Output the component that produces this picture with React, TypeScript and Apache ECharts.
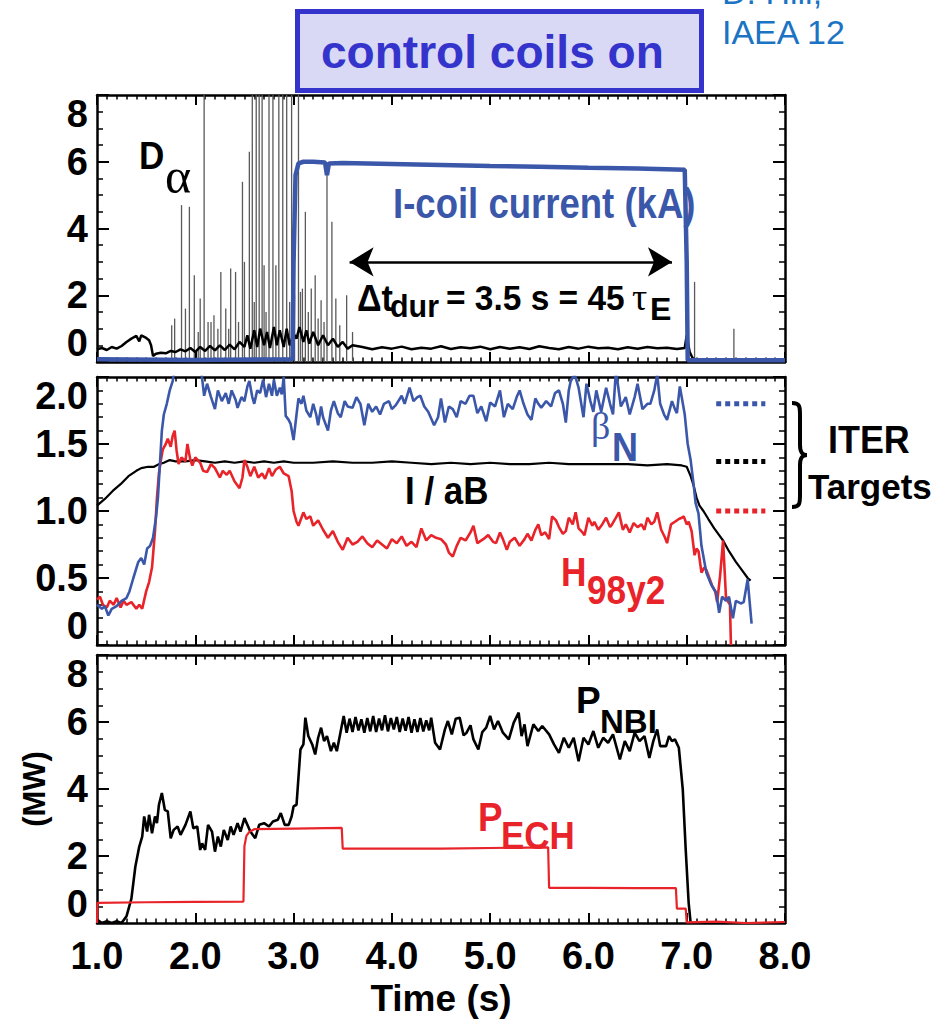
import React, { useEffect, useRef } from 'react';
import * as echarts from 'echarts';

const FONT = '"Liberation Sans", Arial, Helvetica, sans-serif';
const SERIF = '"Liberation Serif", "Times New Roman", serif';
const BLUE = '#3b57a9';
const RED = '#e8242a';
const BLACK = '#000000';

// ---------- tick labels ----------
const xTickValues = [1, 2, 3, 4, 5, 6, 7, 8];
const xTickLabels = ['1.0', '2.0', '3.0', '4.0', '5.0', '6.0', '7.0', '8.0'];
const topTickValues = [0, 2, 4, 6, 8];
const topTickLabels = ['0', '2', '4', '6', '8'];
const midTickValues = [0, 0.5, 1, 1.5, 2];
const midTickLabels = ['0', '0.5', '1.0', '1.5', '2.0'];
const botTickValues = [0, 2, 4, 6, 8];
const botTickLabels = ['0', '2', '4', '6', '8'];

// ---------- top panel: D-alpha and I-coil current ----------
const daBase: number[][] = [
  [1.0, 0.38], [1.05, 0.42], [1.1, 0.36], [1.15, 0.45], [1.2, 0.4], [1.25, 0.48], [1.3, 0.6], [1.35, 0.7],
  [1.4, 0.78], [1.43, 0.62], [1.45, 0.8], [1.5, 0.72], [1.53, 0.65], [1.55, 0.5], [1.57, 0.18], [1.6, 0.25],
  [1.65, 0.28], [1.7, 0.26], [1.75, 0.33], [1.8, 0.3], [1.85, 0.38], [1.9, 0.32], [1.95, 0.42], [2.0, 0.3],
  [2.05, 0.45], [2.1, 0.33], [2.15, 0.48], [2.2, 0.35], [2.25, 0.5], [2.3, 0.36], [2.35, 0.52], [2.4, 0.38],
  [2.45, 0.6], [2.5, 0.45], [2.53, 0.8], [2.56, 0.4], [2.6, 0.95], [2.63, 0.45], [2.66, 1.0], [2.7, 0.5],
  [2.73, 0.9], [2.76, 0.42], [2.8, 1.05], [2.83, 0.5], [2.86, 0.95], [2.9, 0.45], [2.93, 1.0], [2.96, 0.5],
  [3.0, 0.85], [3.03, 0.7], [3.06, 1.05], [3.1, 0.6], [3.13, 0.95], [3.16, 0.55], [3.2, 0.9], [3.25, 0.5],
  [3.3, 0.8], [3.35, 0.5], [3.4, 0.7], [3.45, 0.45], [3.5, 0.6], [3.55, 0.4], [3.6, 0.5], [3.7, 0.45],
  [3.8, 0.38], [3.9, 0.44], [4.0, 0.4], [4.1, 0.46], [4.2, 0.38], [4.3, 0.43], [4.4, 0.4], [4.5, 0.47],
  [4.6, 0.39], [4.7, 0.44], [4.8, 0.41], [4.9, 0.46], [5.0, 0.38], [5.1, 0.45], [5.2, 0.4], [5.3, 0.44],
  [5.4, 0.39], [5.5, 0.47], [5.6, 0.42], [5.7, 0.38], [5.8, 0.45], [5.9, 0.4], [6.0, 0.46], [6.1, 0.41],
  [6.2, 0.43], [6.3, 0.38], [6.4, 0.44], [6.5, 0.4], [6.6, 0.45], [6.7, 0.41], [6.8, 0.43], [6.9, 0.39],
  [6.98, 0.42], [7.0, 0.8], [7.03, 0.3], [7.06, 0.12], [7.1, 0.05], [7.5, 0.06], [8.0, 0.05],
];
const daSpikes: number[][] = [
  [1.76, 1.1], [1.79, 1.3], [1.86, 4.7], [1.9, 1.6], [1.94, 4.65], [1.99, 2.6], [2.03, 0.9], [2.05, 1.9],
  [2.09, 10], [2.13, 1.2], [2.16, 1.2], [2.19, 1.4], [2.23, 1.0], [2.26, 2.7], [2.31, 1.6], [2.34, 1.0],
  [2.36, 2.8], [2.41, 2.7], [2.44, 1.2], [2.48, 5.4], [2.5, 3.0], [2.55, 6.3], [2.58, 10], [2.6, 1.8],
  [2.62, 10], [2.65, 10], [2.68, 10], [2.7, 2.9], [2.72, 1.5], [2.75, 10], [2.79, 10], [2.82, 2.9],
  [2.85, 10], [2.89, 10], [2.93, 10], [2.96, 1.8], [2.98, 10], [3.01, 2.0], [3.05, 10], [3.07, 2.1],
  [3.09, 2.2], [3.12, 4.5], [3.15, 1.5], [3.18, 2.2], [3.22, 2.6], [3.25, 1.3], [3.28, 1.85], [3.31, 1.2],
  [3.34, 5.6], [3.39, 4.2], [3.43, 1.9], [3.47, 1.1], [3.54, 2.0], [3.6, 0.9], [7.08, 2.4], [7.48, 1.0],
];
const icoil: number[][] = [
  [1.0, 0.08], [2.0, 0.06], [2.99, 0.08], [3.0, 3.0], [3.02, 5.6], [3.05, 5.95], [3.1, 6.0], [3.2, 6.0],
  [3.32, 5.98], [3.34, 5.6], [3.36, 5.95], [3.5, 5.96], [4.0, 5.93], [4.5, 5.9], [5.0, 5.87], [5.5, 5.85],
  [6.0, 5.82], [6.5, 5.8], [6.98, 5.76], [7.0, 3.0], [7.01, 0.05], [7.5, 0.05], [8.0, 0.05],
];
const dtArrow: number[][] = [[3.57, 3.0], [6.85, 3.0]];

// ---------- middle panel ----------
const betaN: number[][] = [
  [1.0, 0.3], [1.05, 0.27], [1.08, 0.29], [1.115, 0.22], [1.15, 0.27], [1.2, 0.29], [1.25, 0.33], [1.3, 0.35],
  [1.33, 0.4], [1.37, 0.5], [1.42, 0.62], [1.45, 0.65], [1.48, 0.6], [1.51, 0.72], [1.54, 0.74], [1.57, 0.8],
  [1.6, 0.95], [1.62, 1.1], [1.64, 1.35], [1.66, 1.6], [1.68, 1.72], [1.71, 1.8], [1.74, 1.9], [1.77, 1.97],
  [1.8, 2.1], [1.9, 2.15], [2.0, 2.12], [2.06, 2.05], [2.09, 1.86], [2.12, 1.95], [2.16, 1.85], [2.2, 1.76],
  [2.23, 1.9], [2.27, 1.82], [2.31, 1.88], [2.34, 1.8], [2.37, 1.9], [2.41, 1.83], [2.43, 1.77], [2.47, 1.85],
  [2.5, 1.82], [2.53, 1.93], [2.55, 1.97], [2.58, 1.85], [2.6, 1.8], [2.63, 1.9], [2.66, 1.88], [2.69, 1.98],
  [2.72, 1.85], [2.75, 1.95], [2.78, 1.86], [2.8, 1.98], [2.83, 1.86], [2.86, 1.92], [2.88, 1.87], [2.9, 2.0],
  [2.92, 1.71], [2.95, 1.68], [2.97, 1.65], [3.0, 1.53], [3.03, 1.72], [3.05, 1.84], [3.08, 1.8], [3.1, 1.86],
  [3.13, 1.75], [3.17, 1.7], [3.2, 1.8], [3.23, 1.72], [3.25, 1.64], [3.28, 1.78], [3.3, 1.7], [3.35, 1.6],
  [3.38, 1.75], [3.41, 1.82], [3.45, 1.73], [3.48, 1.7], [3.52, 1.82], [3.55, 1.78], [3.6, 1.77], [3.64, 1.85],
  [3.68, 1.8], [3.72, 1.64], [3.76, 1.8], [3.8, 1.74], [3.84, 1.78], [3.88, 1.72], [3.92, 1.8], [3.97, 1.82],
  [4.0, 1.76], [4.04, 1.79], [4.1, 1.86], [4.13, 1.8], [4.18, 1.92], [4.22, 1.82], [4.26, 1.85], [4.29, 1.86],
  [4.33, 1.78], [4.37, 1.74], [4.43, 1.64], [4.47, 1.7], [4.5, 1.84], [4.54, 1.66], [4.58, 1.78], [4.62, 1.76],
  [4.66, 1.7], [4.7, 1.82], [4.75, 1.8], [4.79, 1.86], [4.83, 1.86], [4.87, 1.73], [4.91, 1.78], [4.96, 1.67],
  [5.0, 1.81], [5.05, 1.78], [5.1, 1.9], [5.14, 1.7], [5.18, 1.8], [5.23, 1.76], [5.27, 1.85], [5.3, 1.9],
  [5.34, 1.8], [5.38, 1.72], [5.42, 1.68], [5.46, 1.84], [5.49, 1.8], [5.52, 1.77], [5.57, 1.82], [5.62, 1.78],
  [5.66, 1.88], [5.7, 1.9], [5.74, 1.8], [5.77, 1.66], [5.8, 1.9], [5.82, 1.97], [5.86, 2.02], [5.9, 1.92],
  [5.95, 1.7], [5.98, 1.95], [6.02, 1.82], [6.05, 1.74], [6.08, 1.9], [6.13, 1.74], [6.18, 1.92], [6.22, 1.8],
  [6.25, 1.72], [6.28, 2.05], [6.33, 1.78], [6.38, 1.85], [6.42, 1.72], [6.47, 1.85], [6.5, 1.95], [6.55, 1.76],
  [6.6, 1.8], [6.63, 1.8], [6.67, 1.9], [6.7, 2.02], [6.73, 1.8], [6.77, 1.72], [6.8, 1.68], [6.85, 1.82],
  [6.88, 1.76], [6.9, 1.73], [6.93, 1.93], [6.98, 1.72], [7.01, 1.5], [7.04, 1.38], [7.07, 1.2], [7.09, 1.06],
  [7.12, 0.98], [7.15, 0.74], [7.2, 0.54], [7.25, 0.45], [7.3, 0.39], [7.33, 0.24], [7.36, 0.36], [7.4, 0.33],
  [7.43, 0.36], [7.47, 0.2], [7.5, 0.33], [7.55, 0.31], [7.58, 0.32], [7.62, 0.49], [7.66, 0.16],
];
const iaB: number[][] = [
  [1.0, 1.04], [1.08, 1.09], [1.16, 1.15], [1.24, 1.2], [1.32, 1.26], [1.4, 1.3], [1.45, 1.32], [1.52, 1.33],
  [1.58, 1.33], [1.63, 1.35], [1.68, 1.36], [1.74, 1.38], [1.8, 1.37], [1.9, 1.37], [2.0, 1.38], [2.1, 1.37],
  [2.2, 1.36], [2.3, 1.37], [2.4, 1.36], [2.5, 1.37], [2.6, 1.36], [2.7, 1.37], [2.8, 1.36], [2.9, 1.37],
  [3.0, 1.36], [3.2, 1.36], [3.4, 1.37], [3.6, 1.36], [3.8, 1.36], [4.0, 1.37], [4.2, 1.36], [4.4, 1.35],
  [4.6, 1.36], [4.8, 1.35], [5.0, 1.36], [5.2, 1.35], [5.4, 1.35], [5.6, 1.36], [5.8, 1.35], [6.0, 1.35],
  [6.2, 1.35], [6.4, 1.35], [6.6, 1.34], [6.8, 1.35], [6.95, 1.34], [7.0, 1.33], [7.04, 1.26], [7.07, 1.19],
  [7.1, 1.1], [7.13, 1.04], [7.17, 1.0], [7.22, 0.94], [7.28, 0.87], [7.33, 0.82], [7.37, 0.78], [7.43, 0.7],
  [7.5, 0.62], [7.56, 0.56], [7.62, 0.5], [7.65, 0.48],
];
const h98: number[][] = [
  [1.0, 0.34], [1.03, 0.36], [1.06, 0.3], [1.1, 0.28], [1.13, 0.33], [1.17, 0.3], [1.2, 0.35], [1.24, 0.28],
  [1.27, 0.33], [1.3, 0.3], [1.35, 0.32], [1.4, 0.27], [1.43, 0.3], [1.46, 0.27], [1.5, 0.4], [1.53, 0.47],
  [1.56, 0.58], [1.59, 0.85], [1.61, 1.1], [1.63, 1.28], [1.65, 1.38], [1.67, 1.46], [1.7, 1.5], [1.72, 1.54],
  [1.75, 1.48], [1.77, 1.56], [1.79, 1.6], [1.81, 1.45], [1.83, 1.35], [1.86, 1.4], [1.9, 1.37], [1.92, 1.5],
  [1.95, 1.38], [1.97, 1.34], [2.0, 1.4], [2.05, 1.36], [2.08, 1.3], [2.12, 1.29], [2.16, 1.35], [2.2, 1.32],
  [2.25, 1.25], [2.28, 1.3], [2.32, 1.27], [2.35, 1.3], [2.4, 1.22], [2.45, 1.17], [2.48, 1.25], [2.5, 1.38],
  [2.53, 1.33], [2.56, 1.26], [2.6, 1.33], [2.64, 1.25], [2.68, 1.28], [2.71, 1.24], [2.75, 1.32], [2.78, 1.26],
  [2.82, 1.31], [2.86, 1.33], [2.9, 1.28], [2.95, 1.26], [2.98, 1.15], [3.0, 1.0], [3.03, 0.92], [3.05, 0.89],
  [3.08, 0.95], [3.1, 0.99], [3.13, 0.94], [3.17, 0.96], [3.2, 0.89], [3.25, 0.93], [3.3, 0.86], [3.35, 0.8],
  [3.4, 0.85], [3.45, 0.77], [3.5, 0.71], [3.55, 0.8], [3.6, 0.75], [3.65, 0.77], [3.7, 0.81], [3.75, 0.76],
  [3.8, 0.73], [3.85, 0.78], [3.9, 0.75], [3.95, 0.72], [4.0, 0.79], [4.05, 0.76], [4.1, 0.81], [4.15, 0.74],
  [4.2, 0.77], [4.25, 0.73], [4.3, 0.87], [4.35, 0.78], [4.4, 0.82], [4.45, 0.8], [4.5, 0.79], [4.55, 0.75],
  [4.58, 0.69], [4.62, 0.66], [4.66, 0.74], [4.7, 0.8], [4.75, 0.78], [4.8, 0.84], [4.83, 0.89], [4.87, 0.76],
  [4.93, 0.79], [4.98, 0.82], [5.03, 0.77], [5.06, 0.76], [5.1, 0.84], [5.13, 0.79], [5.17, 0.71], [5.2, 0.77],
  [5.25, 0.8], [5.3, 0.74], [5.35, 0.79], [5.38, 0.83], [5.42, 0.78], [5.46, 0.86], [5.49, 0.9], [5.52, 0.82],
  [5.56, 0.84], [5.6, 0.79], [5.63, 0.96], [5.67, 0.93], [5.7, 0.88], [5.74, 0.83], [5.77, 0.85], [5.8, 0.95],
  [5.84, 0.9], [5.87, 0.99], [5.9, 0.87], [5.94, 0.84], [5.96, 0.82], [6.0, 0.95], [6.04, 0.89], [6.06, 0.92],
  [6.1, 0.86], [6.14, 0.9], [6.18, 0.95], [6.22, 0.88], [6.24, 0.9], [6.28, 0.95], [6.31, 0.99], [6.35, 0.86],
  [6.38, 0.9], [6.42, 0.84], [6.46, 0.91], [6.5, 0.88], [6.54, 0.9], [6.57, 0.86], [6.6, 0.95], [6.64, 0.9],
  [6.67, 0.92], [6.7, 0.99], [6.74, 0.86], [6.78, 0.8], [6.8, 0.76], [6.84, 0.9], [6.88, 0.92], [6.92, 0.94],
  [6.95, 0.95], [6.97, 0.96], [7.0, 0.9], [7.02, 0.92], [7.05, 0.85], [7.08, 0.67], [7.1, 0.72], [7.12, 0.7],
  [7.15, 0.54], [7.18, 0.58], [7.2, 0.56], [7.23, 0.5], [7.26, 0.44], [7.29, 0.4], [7.31, 0.32], [7.34, 0.52],
  [7.37, 0.78], [7.4, 0.35], [7.44, 0.3], [7.45, 0.0],
];
const iterTargetSpan = [7.3, 7.8];
const iterBetaN = 1.8;
const iterIaB = 1.37;
const iterH98 = 1.0;

// ---------- bottom panel ----------
const pnbi: number[][] = [
  [1.0, 0.1], [1.05, 0.0], [1.1, 0.05], [1.15, 0.0], [1.2, 0.05], [1.25, 0.0], [1.3, 0.2], [1.35, 0.73],
  [1.39, 1.68], [1.43, 2.28], [1.46, 2.58], [1.48, 3.18], [1.51, 2.73], [1.53, 3.23], [1.56, 2.68], [1.59, 3.18],
  [1.61, 2.98], [1.63, 3.53], [1.66, 3.88], [1.69, 3.38], [1.72, 3.33], [1.75, 2.53], [1.78, 2.78], [1.82, 2.88],
  [1.85, 2.63], [1.9, 2.93], [1.95, 3.33], [1.98, 2.83], [2.02, 2.88], [2.05, 2.18], [2.07, 2.38], [2.1, 2.18],
  [2.13, 2.93], [2.17, 2.73], [2.2, 2.13], [2.23, 2.58], [2.26, 2.28], [2.29, 2.78], [2.33, 2.48], [2.36, 2.88],
  [2.39, 2.63], [2.43, 2.98], [2.46, 2.73], [2.5, 3.13], [2.53, 2.93], [2.56, 2.73], [2.61, 2.53], [2.65, 2.93],
  [2.7, 2.98], [2.75, 2.88], [2.79, 3.03], [2.84, 3.08], [2.87, 3.28], [2.91, 2.93], [2.95, 2.93], [2.98, 3.18],
  [3.0, 3.48], [3.03, 3.53], [3.07, 5.18], [3.1, 5.33], [3.12, 6.13], [3.15, 5.58], [3.19, 5.33], [3.22, 5.03],
  [3.25, 5.53], [3.28, 5.83], [3.31, 5.43], [3.34, 5.58], [3.38, 5.13], [3.41, 5.38], [3.44, 5.13], [3.48, 5.73],
  [3.51, 6.18], [3.54, 5.68], [3.57, 6.1], [3.6, 5.7], [3.63, 6.15], [3.66, 5.75], [3.69, 6.08], [3.72, 5.68],
  [3.75, 6.12], [3.78, 5.72], [3.81, 6.18], [3.84, 5.7], [3.87, 6.1], [3.9, 5.75], [3.93, 6.2], [3.96, 5.72],
  [3.99, 6.12], [4.02, 5.78], [4.05, 6.15], [4.08, 5.7], [4.11, 6.1], [4.14, 5.74], [4.17, 6.15], [4.2, 5.68],
  [4.23, 6.08], [4.26, 5.7], [4.29, 6.12], [4.32, 5.72], [4.35, 6.05], [4.38, 5.75], [4.4, 6.13], [4.44, 5.38],
  [4.49, 5.18], [4.54, 5.78], [4.57, 6.03], [4.61, 5.63], [4.65, 6.1], [4.69, 6.13], [4.73, 5.6], [4.76, 5.68],
  [4.8, 5.9], [4.83, 5.48], [4.88, 5.18], [4.92, 5.7], [4.96, 5.83], [5.0, 6.18], [5.04, 5.78], [5.08, 6.03],
  [5.13, 5.68], [5.19, 5.48], [5.24, 5.98], [5.29, 6.28], [5.32, 5.58], [5.35, 5.93], [5.38, 5.28], [5.44, 5.93],
  [5.49, 5.73], [5.53, 5.88], [5.6, 5.63], [5.65, 5.33], [5.7, 5.08], [5.75, 5.53], [5.8, 5.23], [5.85, 5.53],
  [5.9, 4.83], [5.95, 5.53], [6.0, 5.33], [6.05, 5.73], [6.1, 5.23], [6.15, 5.53], [6.2, 5.38], [6.25, 5.63],
  [6.32, 4.88], [6.37, 5.43], [6.42, 5.13], [6.47, 5.68], [6.52, 5.43], [6.57, 5.58], [6.62, 4.93], [6.66, 5.43],
  [6.7, 5.78], [6.73, 5.28], [6.79, 5.28], [6.82, 5.58], [6.85, 5.43], [6.88, 5.48], [6.92, 5.23], [6.96, 3.98],
  [6.99, 2.18], [7.02, 0.59], [7.04, 0.0],
];
const pech: number[][] = [
  [1.0, 0.0], [1.005, 0.6], [1.5, 0.62], [2.0, 0.63], [2.49, 0.64], [2.5, 2.3], [2.52, 2.6], [2.55, 2.72],
  [2.6, 2.8], [3.0, 2.82], [3.49, 2.84], [3.5, 2.22], [4.5, 2.22], [5.59, 2.26], [5.6, 1.05], [6.0, 1.05],
  [6.5, 1.04], [6.89, 1.04], [6.9, 0.43], [6.99, 0.43], [7.0, 0.02], [7.3, 0.04], [7.6, 0.0], [8.0, 0.03],
];

// ---------- brace shape ----------
echarts.graphic.registerShape(
  'brace',
  echarts.graphic.extendPath(
    'M0,2 C8,2 8,6 8,14 L8,44 C8,51 10,54 15,54 C10,54 8,57 8,64 L8,94 C8,102 8,106 0,106',
    {}
  )
);

function lookup(values: number[], labels: string[]) {
  return (v: number) => {
    const i = values.findIndex((x) => Math.abs(x - v) < 1e-6);
    return i >= 0 ? labels[i] : '';
  };
}

const axisLine = { show: true, onZero: false, lineStyle: { color: BLACK, width: 2.5 } };

function makeX(gridIndex: number, position: string, labels: boolean) {
  return {
    type: 'value', gridIndex, position, min: 1, max: 8, interval: 1,
    axisLine,
    axisTick: { show: true, inside: true, length: 10, lineStyle: { color: BLACK, width: 2 } },
    minorTick: { show: true, splitNumber: 10, length: 4.5, lineStyle: { color: BLACK, width: 1.5 } },
    splitLine: { show: false },
    minorSplitLine: { show: false },
    axisLabel: labels
      ? { show: true, margin: 14, fontSize: 38, fontWeight: 'bold', color: BLACK, fontFamily: FONT, formatter: lookup(xTickValues, xTickLabels) }
      : { show: false },
    name: labels ? 'Time (s)' : '',
    nameLocation: 'middle',
    nameGap: 57,
    nameTextStyle: { fontSize: 37, fontWeight: 'bold', color: BLACK, fontFamily: FONT },
  };
}

function makeY(gridIndex: number, position: string, max: number, interval: number, minorSplit: number,
  values: number[], labels: string[] | null, name = '') {
  return {
    type: 'value', gridIndex, position, min: 0, max, interval,
    axisLine,
    axisTick: { show: true, inside: true, length: 12, lineStyle: { color: BLACK, width: 2 } },
    minorTick: { show: true, splitNumber: minorSplit, length: 6, lineStyle: { color: BLACK, width: 1.5 } },
    splitLine: { show: false },
    minorSplitLine: { show: false },
    axisLabel: labels
      ? {
          show: true, margin: 9, fontSize: 38, fontWeight: 'bold', color: BLACK, fontFamily: FONT,
          formatter: lookup(values, labels),
          verticalAlignMinLabel: 'bottom', verticalAlignMaxLabel: 'top',
        }
      : { show: false },
    name,
    nameLocation: 'middle',
    nameGap: 47,
    nameTextStyle: { fontSize: 31, fontWeight: 'bold', color: BLACK, fontFamily: FONT },
  };
}

function line(data: number[][], grid: number, color: string, width: number, z = 3, extra: any = {}) {
  return {
    type: 'line', data, xAxisIndex: grid * 2, yAxisIndex: grid * 2, showSymbol: false, symbol: 'none',
    clip: true, silent: true, z, lineStyle: { color, width, ...extra }, itemStyle: { color },
  };
}

function txt(text: string, x: number, y: number, fontSize: number, o: any = {}) {
  return {
    type: 'text', x, y, scaleX: o.sx ?? 1, silent: true, z: 100,
    style: {
      text, x: 0, y: 0, fontSize, fontWeight: o.weight ?? 'bold', fontFamily: o.family ?? FONT,
      fill: o.color ?? BLACK, align: 'left', verticalAlign: 'middle',
    },
  };
}

export default function App() {
  const ref = useRef<HTMLDivElement>(null);
  useEffect(() => {
    if (!ref.current) return;
    const chart = echarts.init(ref.current, undefined, { renderer: 'svg' });
    const iterSpan = (v: number) => [[iterTargetSpan[0], v], [iterTargetSpan[1], v]];
    chart.setOption({
      animation: false,
      backgroundColor: '#ffffff',
      textStyle: { fontFamily: FONT },
      grid: [
        { left: 97, top: 95, width: 688, height: 267 },
        { left: 97, top: 377, width: 688, height: 268 },
        { left: 97, top: 655, width: 688, height: 268 },
      ],
      xAxis: [
        makeX(0, 'bottom', false), makeX(0, 'top', false),
        makeX(1, 'bottom', false), makeX(1, 'top', false),
        makeX(2, 'bottom', true), makeX(2, 'top', false),
      ],
      yAxis: [
        makeY(0, 'left', 8, 2, 4, topTickValues, topTickLabels), makeY(0, 'right', 8, 2, 4, topTickValues, null),
        makeY(1, 'left', 2, 0.5, 5, midTickValues, midTickLabels), makeY(1, 'right', 2, 0.5, 5, midTickValues, null),
        makeY(2, 'left', 8, 2, 4, botTickValues, botTickLabels, '(MW)'), makeY(2, 'right', 8, 2, 4, botTickValues, null),
      ],
      series: [
        {
          type: 'bar', data: daSpikes, xAxisIndex: 0, yAxisIndex: 0, barWidth: 1.3, clip: true, silent: true, z: 2,
          itemStyle: { color: '#5a5a5a' },
        },
        line(daBase, 0, BLACK, 2.5, 3),
        line(icoil, 0, BLUE, 4.5, 4),
        {
          type: 'line', data: dtArrow, xAxisIndex: 0, yAxisIndex: 0, showSymbol: false, symbol: 'none', silent: true,
          lineStyle: { opacity: 0, width: 0 }, z: 5,
          markLine: {
            silent: true, symbol: ['arrow', 'arrow'], symbolSize: [22, 24], label: { show: false },
            lineStyle: { color: BLACK, width: 2.5, type: 'solid' },
            data: [[{ coord: dtArrow[0] }, { coord: dtArrow[1] }]],
          },
        },
        line(iaB, 1, BLACK, 2.2, 3),
        line(h98, 1, RED, 2.6, 4),
        line(betaN, 1, BLUE, 2.6, 5),
        line(iterSpan(iterBetaN), 1, BLUE, 5, 6, { type: [5, 4], cap: 'butt' }),
        line(iterSpan(iterIaB), 1, BLACK, 5, 6, { type: [5, 4], cap: 'butt' }),
        line(iterSpan(iterH98), 1, RED, 5, 6, { type: [5, 4], cap: 'butt' }),
        line(pnbi, 2, BLACK, 2.6, 3),
        line(pech, 2, RED, 2.2, 4),
      ],
      graphic: {
        elements: [
          {
            type: 'rect', shape: { x: 297.5, y: 11.5, width: 404, height: 79 }, z: 90, silent: true,
            style: { fill: '#d9d9f5', stroke: '#3434cc', lineWidth: 5 },
          },
          txt('control coils on', 321, 52, 47, { color: '#3434cc', sx: 0.98 }),
          txt('D. Hill,', 722, -8, 34, { weight: 'normal', color: '#1b73c3' }),
          txt('IAEA 12', 722, 32, 34, { weight: 'normal', color: '#1b73c3' }),
          txt('D', 139, 155, 39, { sx: 0.9 }),
          txt('α', 165, 176, 50, { weight: 'normal', family: SERIF }),
          txt('I-coil current (kA)', 393, 203, 43, { color: BLUE, sx: 0.85 }),
          txt('Δt', 357, 298, 36, { sx: 0.95 }),
          txt('dur', 390, 306, 32, { sx: 0.95 }),
          txt('= 3.5 s = 45', 446, 298, 36, { sx: 0.93 }),
          txt('τ', 632, 297, 38, { weight: 'normal', family: SERIF }),
          txt('E', 650, 309, 32),
          txt('β', 591, 426, 38, { weight: 'normal', family: SERIF, color: BLUE }),
          txt('N', 612, 447, 40, { color: BLUE, sx: 0.9 }),
          txt('I / aB', 405, 491, 38, { sx: 0.92 }),
          txt('H', 561, 572, 40, { color: RED, sx: 0.88 }),
          txt('98y2', 587, 590, 40, { color: RED, sx: 0.88 }),
          { type: 'brace', x: 792, y: 401, silent: true, z: 100, style: { fill: 'none', stroke: BLACK, lineWidth: 4 } },
          txt('ITER', 828, 439, 39, { sx: 0.92 }),
          txt('Targets', 808, 486, 35),
          txt('P', 576, 700, 37),
          txt('NBI', 600, 721, 33),
          txt('P', 478, 817, 40, { color: RED, sx: 0.92 }),
          txt('ECH', 501, 836, 38, { color: RED, sx: 0.92 }),
        ],
      },
    });
    return () => chart.dispose();
  }, []);
  return (
    <div
      ref={ref}
      style={{ position: 'absolute', left: 0, top: 0, width: 934, height: 1026, background: '#fff' }}
    />
  );
}
